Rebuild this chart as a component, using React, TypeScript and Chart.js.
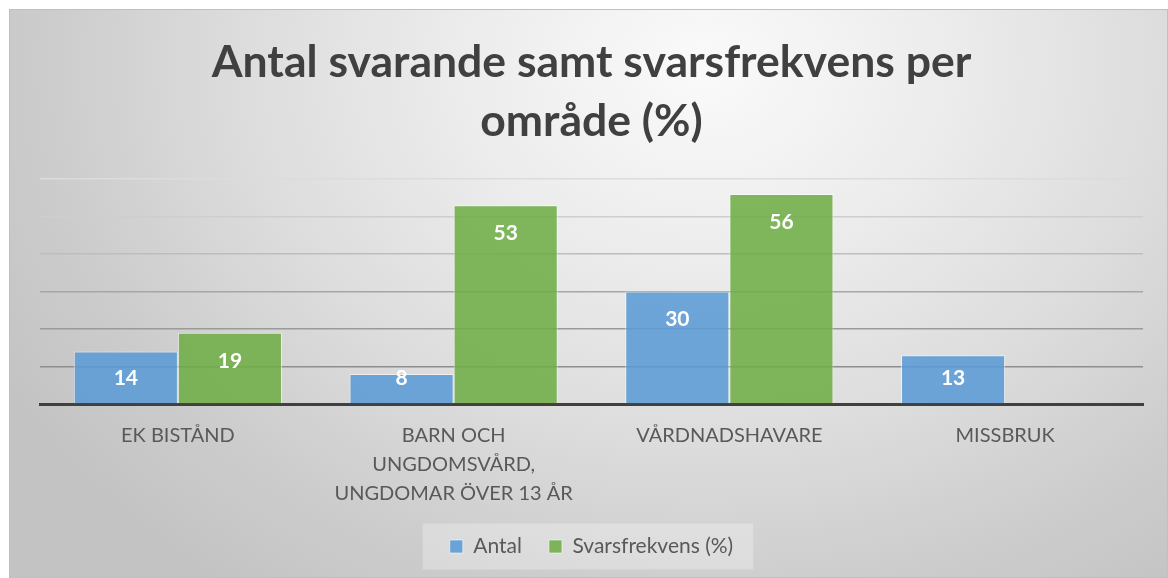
import React, { useEffect, useRef } from "react";
import { Chart, registerables } from "chart.js";

Chart.register(...registerables);

const titleLines = ["Antal svarande samt svarsfrekvens per", "område (%)"];
const categories = [
  ["EK BISTÅND"],
  ["BARN OCH", "UNGDOMSVÅRD,", "UNGDOMAR ÖVER 13 ÅR"],
  ["VÅRDNADSHAVARE"],
  ["MISSBRUK"],
];
const seriesNames = ["Antal", "Svarsfrekvens (%)"];
const antalValues = [14, 8, 30, 13];
const svarsfrekvensValues = [19, 53, 56, null];
const yMin = 0;
const yMax = 60;
const yStep = 10;

const FONT = "Lato, 'Open Sans', sans-serif";

const gridShade: Record<number, string> = {
  0: "#8a8a8a",
  10: "#8e8e8e",
  20: "#9a9a9a",
  30: "#a6a6a6",
  40: "#bdbdbd",
  50: "#cecece",
  60: "#dcdcdc",
};

const dataLabelPlugin = {
  id: "dataLabels",
  afterDatasetsDraw(chart: any) {
    const ctx = chart.ctx;
    ctx.save();
    ctx.fillStyle = "#ffffff";
    ctx.font = `bold 21px ${FONT}`;
    ctx.textAlign = "center";
    ctx.textBaseline = "middle";
    chart.data.datasets.forEach((ds: any, di: number) => {
      const meta = chart.getDatasetMeta(di);
      meta.data.forEach((el: any, i: number) => {
        const v = ds.data[i];
        if (v === null || v === undefined) return;
        const y = Math.min(el.y + 28, el.base - 25);
        ctx.fillText(String(v), el.x, y);
      });
    });
    ctx.restore();
  },
};

const legendBoxPlugin = {
  id: "legendBox",
  beforeDraw(chart: any) {
    const lg = chart.legend;
    if (!lg || !lg.legendHitBoxes || !lg.legendHitBoxes.length) return;
    const hb = lg.legendHitBoxes;
    const first = hb[0];
    const last = hb[hb.length - 1];
    const left = first.left - 27;
    const right = last.left + last.width + 20;
    const cy = first.top + first.height / 2;
    const ctx = chart.ctx;
    ctx.save();
    ctx.fillStyle = "rgba(255,255,255,0.28)";
    ctx.fillRect(left, cy - 23, right - left, 46);
    ctx.restore();
  },
};

export default function App() {
  const canvasRef = useRef<HTMLCanvasElement | null>(null);

  useEffect(() => {
    document.body.style.overflow = "hidden";
    const canvas = canvasRef.current;
    if (!canvas) return;
    const chart = new Chart(canvas, {
      type: "bar",
      data: {
        labels: categories,
        datasets: [
          {
            label: seriesNames[0],
            data: antalValues,
            backgroundColor: "rgba(91,155,213,0.88)",
            borderColor: "rgba(255,255,255,0.55)",
            borderWidth: 1,
            borderSkipped: "bottom",
            categoryPercentage: 0.755,
            barPercentage: 1.0,
          },
          {
            label: seriesNames[1],
            data: svarsfrekvensValues,
            backgroundColor: "rgba(112,173,71,0.88)",
            borderColor: "rgba(255,255,255,0.55)",
            borderWidth: 1,
            borderSkipped: "bottom",
            categoryPercentage: 0.755,
            barPercentage: 1.0,
          },
        ],
      },
      options: {
        animation: false,
        responsive: true,
        maintainAspectRatio: false,
        layout: { padding: { left: 30, right: 24, top: 0, bottom: 10 } },
        plugins: {
          title: {
            display: true,
            text: titleLines,
            color: "#404040",
            font: { family: FONT, size: 44.5, weight: "bold", lineHeight: 1.326 },
            padding: { top: 23, bottom: 28 },
          },
          legend: {
            display: true,
            position: "bottom",
            labels: {
              color: "#595959",
              font: { family: FONT, size: 21 },
              boxWidth: 13,
              boxHeight: 13,
              padding: 27,
            },
          },
          tooltip: { enabled: false },
        },
        scales: {
          x: {
            grid: { display: false, drawTicks: false },
            border: { display: true, color: "#404040", width: 3 },
            ticks: {
              color: "#595959",
              font: { family: FONT, size: 20, lineHeight: 1.46 },
              padding: 17,
              maxRotation: 0,
              autoSkip: false,
            },
            afterFit: (scale: any) => {
              scale.height = 105;
            },
          },
          y: {
            min: yMin,
            max: yMax,
            ticks: { display: false, stepSize: yStep },
            border: { display: false },
            grid: {
              drawTicks: false,
              lineWidth: 1.5,
              color: (c: any) => gridShade[c.tick ? c.tick.value : 0] || "#aaaaaa",
            },
            afterFit: (scale: any) => {
              scale.width = 0;
            },
          },
        },
      },
      plugins: [legendBoxPlugin, dataLabelPlugin],
    });
    return () => chart.destroy();
  }, []);

  return (
    <div
      style={{
        position: "fixed",
        left: 9,
        top: 9,
        width: 1159,
        height: 569,
        boxSizing: "border-box",
        border: "1px solid #c0c0c0",
        background:
          "radial-gradient(ellipse 70% 115% at 60% 10%, #fafafa 0%, #ececec 30%, #dcdcdc 58%, #cdcdcd 80%, #c3c3c3 100%)",
      }}
    >
      <canvas ref={canvasRef} />
    </div>
  );
}
